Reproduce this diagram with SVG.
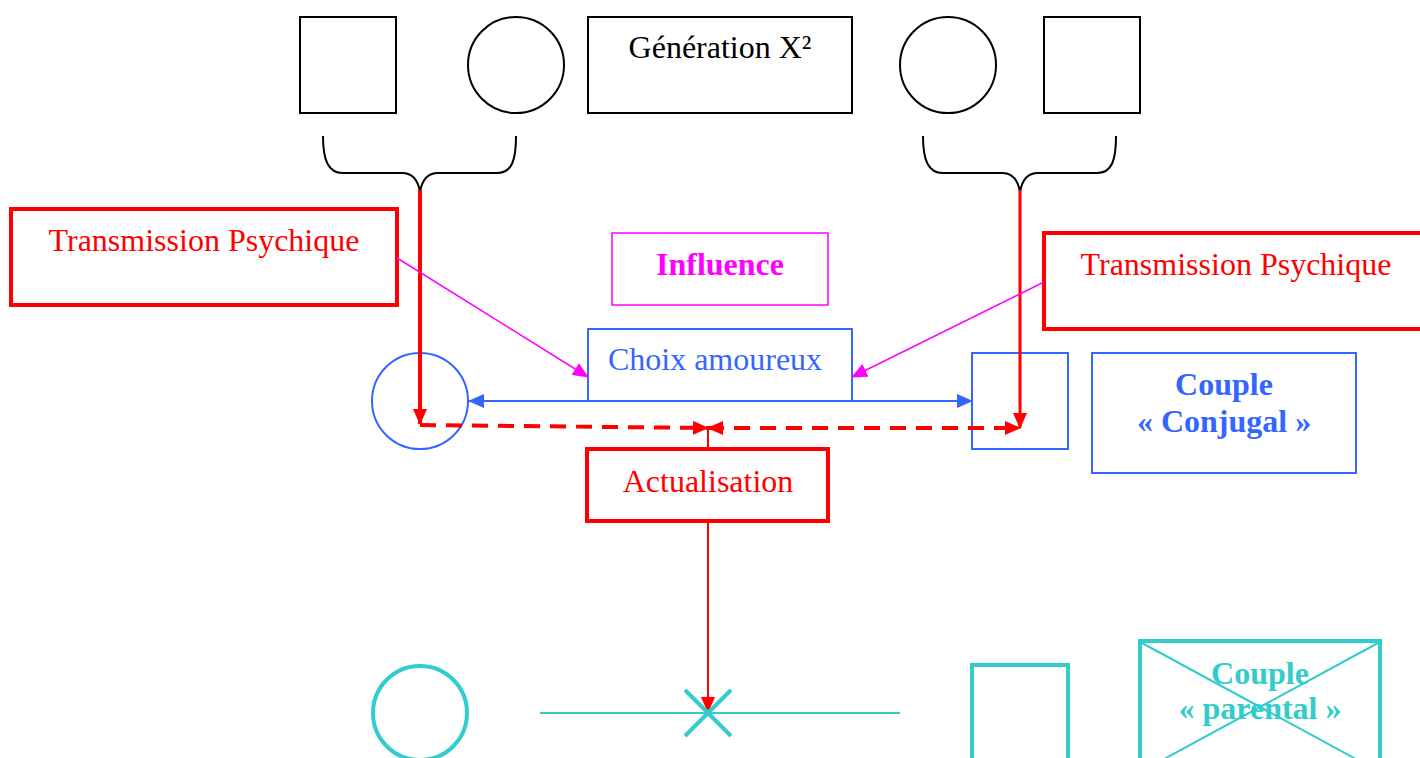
<svg xmlns="http://www.w3.org/2000/svg" width="1420" height="758" viewBox="0 0 1420 758">
<style>
text{font-family:"Liberation Serif","Times New Roman",serif;font-size:32px;text-anchor:middle}
.k{fill:none;stroke:#000;stroke-width:2}
.r{fill:#fff;stroke:#f00;stroke-width:4}
.b{fill:#fff;stroke:#3366ff;stroke-width:2}
.c{fill:none;stroke:#33cccc;stroke-width:4}
.tr{fill:#f00}.tb{fill:#3366ff}.tm{fill:#f0f;font-weight:bold}.tc{fill:#33cccc;font-weight:bold}
</style>
<defs>
<marker id="arl" markerWidth="16" markerHeight="14" refX="15" refY="7" orient="auto" markerUnits="userSpaceOnUse"><path d="M0,0L16,7L0,14z" fill="#f00"/></marker>
<marker id="arls" markerWidth="16" markerHeight="14" refX="1" refY="7" orient="auto" markerUnits="userSpaceOnUse"><path d="M16,0L0,7L16,14z" fill="#f00"/></marker>
<marker id="ab" markerWidth="16" markerHeight="14" refX="15" refY="7" orient="auto" markerUnits="userSpaceOnUse"><path d="M0,0L16,7L0,14z" fill="#3366ff"/></marker>
<marker id="am" markerWidth="16" markerHeight="14" refX="15" refY="7" orient="auto" markerUnits="userSpaceOnUse"><path d="M0,0L16,7L0,14z" fill="#f0f"/></marker>
</defs>
<g id="gen-pere-g"><rect class="k" x="300" y="17" width="96" height="96"/></g>
<g id="gen-mere-g"><circle class="k" cx="516" cy="65" r="48"/></g>
<g id="gen-label"><rect class="k" x="588" y="17" width="264" height="96"/><text x="720" y="58">Génération X²</text></g>
<g id="gen-mere-d"><circle class="k" cx="948" cy="65" r="48"/></g>
<g id="gen-pere-d"><rect class="k" x="1044" y="17" width="96" height="96"/></g>
<g id="brace-g"><path class="k" d="M323,136 C323,160 328,173 343,173 L402,173 C412,173 418,180 420,192 C422,180 428,173 438,173 L497,173 C512,173 516,160 516,136"/></g>
<g id="brace-d"><path class="k" d="M923,136 C923,160 928,173 943,173 L1002,173 C1012,173 1018,180 1020,192 C1022,180 1028,173 1038,173 L1097,173 C1112,173 1116,160 1116,136"/></g>
<g id="trans-g"><rect class="r" x="11" y="209" width="386" height="96"/><text class="tr" x="204" y="251">Transmission Psychique</text></g>
<g id="influence"><rect x="612" y="233" width="216" height="72" fill="#fff" stroke="#f0f" stroke-width="1.5"/><text class="tm" x="720" y="275">Influence</text></g>
<g id="trans-d"><rect class="r" x="1044" y="233" width="390" height="96"/><text class="tr" x="1236" y="275">Transmission Psychique</text></g>
<g id="choix"><rect class="b" x="588" y="329" width="264" height="72"/><text class="tb" x="715" y="370">Choix amoureux</text></g>
<g id="femme"><circle class="b" cx="420" cy="401" r="48" fill="none"/></g>
<g id="homme"><rect class="b" x="972" y="353" width="96" height="96" fill="none"/></g>
<g id="couple-conj"><rect class="b" x="1092" y="353" width="264" height="120"/><text class="tb" x="1224" y="395" font-weight="bold">Couple</text><text class="tb" x="1224" y="432" font-weight="bold">« Conjugal »</text></g>
<g id="actualisation"><rect class="r" x="587" y="449" width="241" height="72"/><text class="tr" x="708" y="492">Actualisation</text></g>
<g id="femme-b"><circle class="c" cx="420" cy="713" r="47"/></g>
<g id="homme-b"><rect class="c" x="972" y="665" width="96" height="110"/></g>
<g id="couple-par"><rect class="c" x="1140" y="641" width="240" height="130"/><path d="M1142,643L1378,771M1378,643L1142,771" stroke="#33cccc" stroke-width="2" fill="none"/><text class="tc" x="1260" y="684">Couple</text><text class="tc" x="1260" y="719">« parental »</text></g>
<g id="connectors" fill="none">
<path d="M420,190V424" stroke="#f00" stroke-width="4" marker-end="url(#arl)"/>
<path d="M1020,190V428" stroke="#f00" stroke-width="3" marker-end="url(#arl)"/>
<path d="M397,258L588,377" stroke="#f0f" stroke-width="1.5" marker-end="url(#am)"/>
<path d="M1044,282L852,377" stroke="#f0f" stroke-width="1.5" marker-end="url(#am)"/>
<path d="M588,401H469" stroke="#3366ff" stroke-width="2" marker-end="url(#ab)"/>
<path d="M852,401H972" stroke="#3366ff" stroke-width="2" marker-end="url(#ab)"/>
<path d="M420,425L708,428" stroke="#f00" stroke-width="4" stroke-dasharray="16,10" marker-end="url(#arl)"/>
<path d="M708,428H1020" stroke="#f00" stroke-width="4" stroke-dasharray="16,10" marker-start="url(#arls)" marker-end="url(#arl)"/>
<path d="M708,428V449" stroke="#f00" stroke-width="2"/>
<path d="M708,521V712" stroke="#f00" stroke-width="2" marker-end="url(#arl)"/>
<path d="M540,713H900" stroke="#33cccc" stroke-width="2"/>
<path d="M685,690L731,736M731,690L685,736" stroke="#33cccc" stroke-width="4"/>
</g>
</svg>
